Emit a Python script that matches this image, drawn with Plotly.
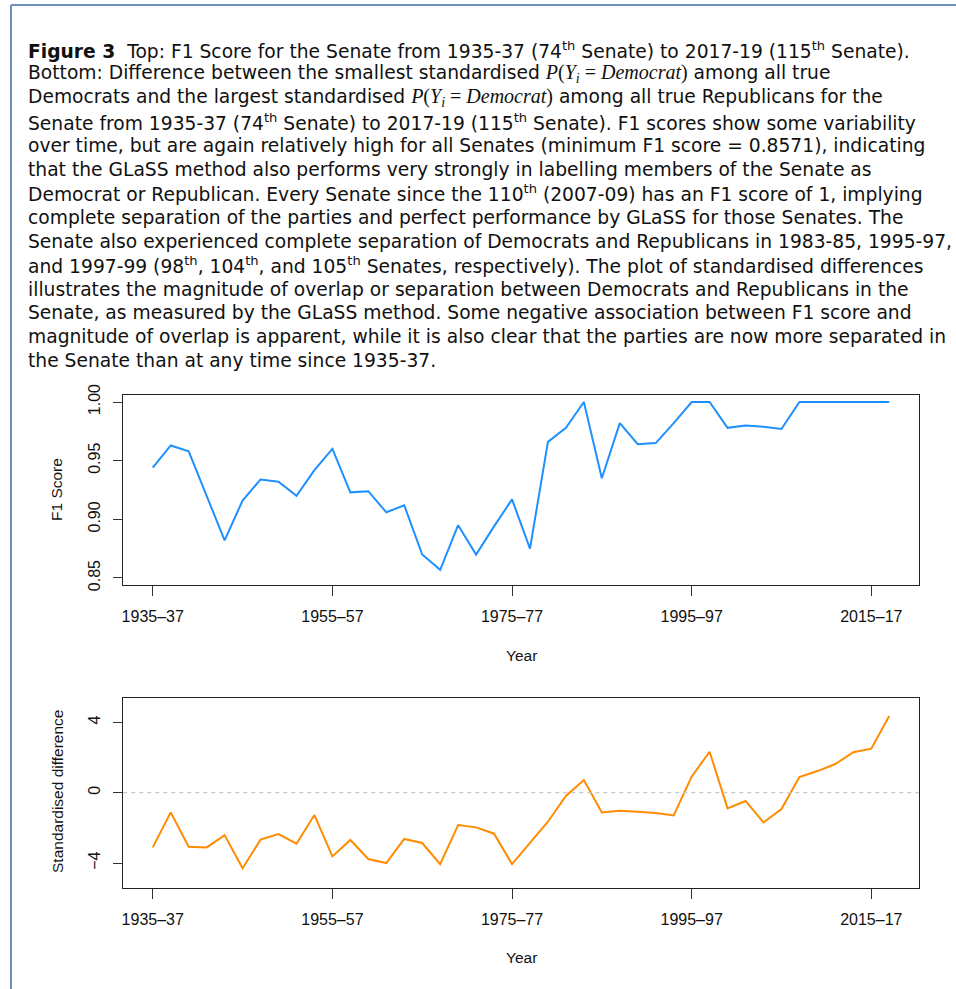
import plotly.graph_objects as go

# Senate sessions, 74th (1935-37) to 115th (2017-19)
senates = [f"{y}–{str(y + 2)[-2:]}" for y in range(1935, 2018, 2)]
tick_labels = ["1935–37", "1955–57", "1975–77", "1995–97", "2015–17"]

f1_score = [0.944, 0.963, 0.958, 0.920, 0.882, 0.916, 0.934, 0.932, 0.920, 0.942,
            0.960, 0.923, 0.924, 0.906, 0.912, 0.870, 0.857, 0.895, 0.870, 0.894,
            0.917, 0.875, 0.966, 0.978, 1.000, 0.935, 0.982, 0.964, 0.965, 0.982,
            1.000, 1.000, 0.978, 0.980, 0.979, 0.977, 1.000, 1.000, 1.000, 1.000,
            1.000, 1.000]

std_diff = [-3.11, -1.12, -3.07, -3.11, -2.41, -4.30, -2.67, -2.35, -2.90, -1.27,
            -3.62, -2.69, -3.77, -4.00, -2.63, -2.86, -4.06, -1.84, -1.97, -2.33,
            -4.06, -2.84, -1.65, -0.19, 0.72, -1.12, -1.02, -1.08, -1.15, -1.29,
            0.91, 2.33, -0.89, -0.47, -1.69, -0.93, 0.89, 1.23, 1.63, 2.30,
            2.50, 4.36]

W, H = 956, 989
TXT = "Liberation Sans, Arial, sans-serif"
CAP = "DejaVu Sans, sans-serif"

math = ("<span style=\"font-family:'Liberation Serif', serif; font-size:20px\"><i>P</i>(<i>Y<sub>i</sub></i>"
        " = <i>Democrat</i>)</span>")
caption = [
    "<b>Figure 3</b>  Top: F1 Score for the Senate from 1935-37 (74<sup>th</sup> Senate) to 2017-19 (115<sup>th</sup> Senate).",
    f"Bottom: Difference between the smallest standardised {math} among all true",
    f"Democrats and the largest standardised {math} among all true Republicans for the",
    "Senate from 1935-37 (74<sup>th</sup> Senate) to 2017-19 (115<sup>th</sup> Senate). F1 scores show some variability",
    "over time, but are again relatively high for all Senates (minimum F1 score = 0.8571), indicating",
    "that the GLaSS method also performs very strongly in labelling members of the Senate as",
    "Democrat or Republican. Every Senate since the 110<sup>th</sup> (2007-09) has an F1 score of 1, implying",
    "complete separation of the parties and perfect performance by GLaSS for those Senates. The",
    "Senate also experienced complete separation of Democrats and Republicans in 1983-85, 1995-97,",
    "and 1997-99 (98<sup>th</sup>, 104<sup>th</sup>, and 105<sup>th</sup> Senates, respectively). The plot of standardised differences",
    "illustrates the magnitude of overlap or separation between Democrats and Republicans in the",
    "Senate, as measured by the GLaSS method. Some negative association between F1 score and",
    "magnitude of overlap is apparent, while it is also clear that the parties are now more separated in",
    "the Senate than at any time since 1935-37.",
]


def py(px):
    return 1 - px / H


fig = go.Figure()
fig.add_trace(go.Scatter(x=senates, y=f1_score, mode="lines",
                         line=dict(color="#1E90FF", width=2), xaxis="x", yaxis="y"))
fig.add_trace(go.Scatter(x=senates, y=std_diff, mode="lines",
                         line=dict(color="#FF8C00", width=2), xaxis="x2", yaxis="y2"))

xdom = [123.3 / W, 918.7 / W]
axis_common = dict(showline=True, mirror=True, linecolor="#222", linewidth=1,
                   ticks="outside", tickcolor="#333", showgrid=False, zeroline=False,
                   automargin=False,
                   tickfont=dict(family=TXT, size=16, color="#111"))
fig.update_layout(
    width=W, height=H, showlegend=False,
    paper_bgcolor="white", plot_bgcolor="white",
    margin=dict(l=0, r=0, t=0, b=0, pad=0, autoexpand=False),
    xaxis=dict(domain=xdom, anchor="y", type="category", range=[-1.64, 42.64],
               tickvals=tick_labels, ticklen=10, ticklabelstandoff=7, **axis_common),
    yaxis=dict(domain=[py(585), py(395)], anchor="x", range=[0.844, 1.006],
               tickvals=[0.85, 0.90, 0.95, 1.00], tickformat=".2f", tickangle=-90,
               ticklen=9, ticklabelstandoff=7, **axis_common),
    xaxis2=dict(domain=xdom, anchor="y2", type="category", range=[-1.64, 42.64],
                tickvals=tick_labels, ticklen=10, ticklabelstandoff=7, **axis_common),
    yaxis2=dict(domain=[py(887.7), py(697.7)], anchor="x2", range=[-5.4, 5.4],
                tickvals=[-4, 0, 4], ticktext=["−4", "0", "4"], tickangle=-90,
                ticklen=9, ticklabelstandoff=7, **axis_common),
)

# zero reference line in the bottom panel
fig.add_shape(type="line", xref="x2 domain", yref="y2", x0=0, x1=1, y0=0, y1=0,
              line=dict(color="#C8C8C8", width=1.2, dash="4px,4px"))

# page frame
fig.add_shape(type="line", xref="paper", yref="paper", x0=11 / W, x1=1, y0=py(5), y1=py(5),
              line=dict(color="#7090BD", width=2))
fig.add_shape(type="line", xref="paper", yref="paper", x0=11 / W, x1=11 / W, y0=0, y1=py(5),
              line=dict(color="#7090BD", width=2))

# axis titles
for txt, y in [("Year", 655), ("Year", 957)]:
    fig.add_annotation(text=txt, xref="paper", yref="paper", x=521 / W, y=py(y),
                       xanchor="center", yanchor="middle", showarrow=False,
                       font=dict(family=TXT, size=15.5, color="#111"))
for txt, y in [("F1 Score", 490), ("Standardised difference", 792)]:
    fig.add_annotation(text=txt, xref="paper", yref="paper", x=57 / W, y=py(y),
                       xanchor="center", yanchor="middle", showarrow=False, textangle=-90,
                       font=dict(family=TXT, size=15.5, color="#111"))

# caption
for k, line in enumerate(caption):
    fig.add_annotation(text=line, xref="paper", yref="paper", x=26 / W, y=py(50 + 23.9 * k),
                       xanchor="left", yanchor="middle", showarrow=False, align="left",
                       font=dict(family=CAP, size=18.7, color="#111"))

fig.write_html("out.html", config={"displayModeBar": False},
               post_script="document.body.style.margin = '0';")
